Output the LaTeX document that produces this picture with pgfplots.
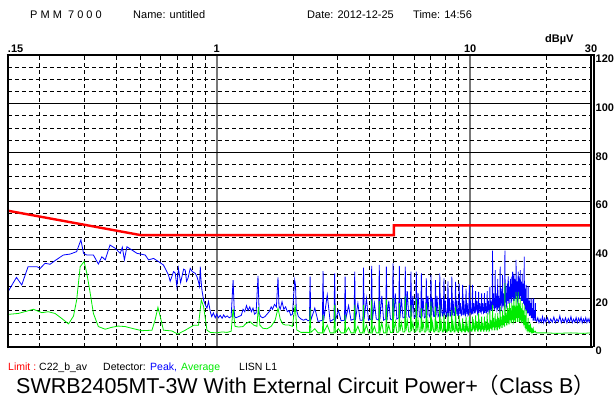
\documentclass[border=0pt]{standalone}
\usepackage{pgfplots}
\pgfplotsset{compat=1.18}
\usepackage{fontspec}
\setmainfont{Liberation Sans}
\newfontfamily\cjk{Noto Sans CJK SC}
\definecolor{pkblue}{RGB}{0,0,255}
\definecolor{avgreen}{RGB}{0,235,0}
\definecolor{limred}{RGB}{255,0,0}
\begin{document}
\begin{tikzpicture}
\useasboundingbox (0pt,0pt) rectangle (615pt,401pt);
\begin{axis}[
  at={(8pt,54pt)}, anchor=south west,
  width=583pt, height=292pt, scale only axis,
  xmode=log, xmin=0.15, xmax=30, ymin=0, ymax=120,
  axis line style={draw=none},
  clip=false,
  xtick={1,10}, xticklabels={1,10},
  extra x ticks={0.15,30}, extra x tick labels={\makebox[0pt][l]{.15},30},
  extra x tick style={grid=none},
  minor xtick={0.2,0.3,0.4,0.5,0.6,0.7,0.8,0.9,2,3,4,5,6,7,8,9,20},
  xticklabel pos=upper,
  ytick={0,20,40,60,80,100,120},
  yticklabels={0,20,40,60,80,100,120},
  minor ytick={5,10,15,25,30,35,45,50,55,65,70,75,85,90,95,105,110,115},
  yticklabel pos=right,
  major tick length=0pt, minor tick length=0pt,
  xmajorgrids, xminorgrids, ymajorgrids, yminorgrids,
  major x grid style={draw={rgb,255:red,120;green,120;blue,120}, line width=1.5pt},
  minor x grid style={black, line width=0.8pt, dash pattern=on 4pt off 3pt},
  major y grid style={black, line width=0.9pt},
  minor y grid style={black, line width=0.8pt, dash pattern=on 4pt off 3pt},
  /pgf/number format/assume math mode=true,
  tick label style={font=\bfseries\fontsize{11}{13}\selectfont},
  xticklabel style={anchor=south, inner sep=0pt, yshift=2.5pt},
  yticklabel style={anchor=north west, inner sep=0pt, xshift=4.5pt},
]
% Peak (blue)
\addplot[pkblue, line width=0.8pt] coordinates {
(0.150,22.7)(0.162,28.6)(0.170,25.5)(0.180,33.0)(0.195,33.0)(0.201,32.3)(0.210,34.4)(0.220,34.0)(0.230,35.5)(0.248,37.8)(0.264,38.2)(0.280,39.2)(0.286,41.9)(0.291,44.0)(0.298,38.5)(0.307,37.8)(0.326,37.8)(0.341,34.1)(0.352,37.1)(0.363,35.8)(0.379,41.9)(0.397,40.6)(0.416,38.5)(0.424,41.0)(0.432,35.8)(0.442,41.2)(0.462,39.9)(0.484,38.5)(0.522,37.8)(0.538,35.8)(0.563,36.4)(0.589,35.1)(0.616,33.7)(0.645,29.6)(0.655,27.0)(0.665,28.9)(0.675,31.0)(0.686,30.3)(0.696,24.8)(0.706,32.3)(0.720,26.5)(0.729,28.9)(0.740,32.0)(0.751,31.6)(0.760,27.0)(0.770,28.2)(0.786,32.3)(0.800,31.0)(0.822,30.3)(0.835,29.0)(0.847,26.8)(0.855,25.0)(0.861,33.0)(0.866,28.0)(0.874,23.4)(0.887,19.3)(0.901,17.3)(0.915,16.0)(0.928,18.7)
(0.943,14.5)(0.955,12.5)(0.970,14.0)(0.986,12.0)(1.000,13.5)(1.015,12.0)(1.032,13.0)(1.050,11.8)(1.065,13.2)(1.080,12.2)(1.100,12.8)(1.120,12.0)(1.140,12.5)(1.160,27.5)(1.175,12.5)(1.190,12.0)(1.220,12.5)(1.250,13.0)(1.270,15.5)(1.290,14.5)(1.310,17.0)(1.330,15.0)(1.350,16.5)(1.370,14.5)(1.390,16.0)(1.410,13.5)(1.430,14.0)(1.455,29.2)(1.470,14.0)(1.490,12.5)(1.520,12.0)(1.550,12.5)(1.580,13.5)(1.610,14.5)(1.640,16.5)(1.660,15.5)(1.690,17.5)(1.720,16.5)(1.745,28.6)(1.760,17.0)(1.780,15.5)(1.810,18.6)(1.840,15.5)(1.870,16.5)(1.900,14.5)(1.930,15.0)(1.960,13.0)(1.990,13.5)(2.030,27.5)(2.045,25.5)(2.060,15.5)(2.100,12.5)(2.150,11.5)(2.200,11.0)(2.250,11.5)(2.290,10.8)
(2.322,11.0)(2.336,28.9)(2.350,11.0)(2.438,16.0)(2.511,10.5)
(2.612,11.0)(2.628,31.2)(2.644,11.0)(2.730,21.4)(2.803,10.5)
(2.902,11.5)(2.920,30.3)(2.938,11.0)(3.022,15.0)(3.095,10.8)
(3.193,11.0)(3.212,28.9)(3.231,11.5)(3.314,17.0)(3.387,11.0)
(3.483,11.5)(3.504,31.0)(3.525,11.0)(3.606,18.0)(3.679,11.0)
(3.773,11.0)(3.796,32.6)(3.819,11.5)(3.898,20.0)(3.971,11.0)
(4.063,11.5)(4.088,33.3)(4.113,11.0)(4.190,18.0)(4.263,11.5)
(4.354,11.0)(4.380,33.7)(4.406,11.5)(4.482,21.0)(4.555,11.0)
(4.644,11.5)(4.672,33.0)(4.700,11.0)(4.774,19.0)(4.847,11.5)
(4.934,11.0)(4.964,34.4)(4.994,12.0)(5.066,22.0)(5.139,11.5)
(5.225,12.0)(5.256,33.3)(5.287,12.0)(5.358,20.0)(5.431,12.0)
(5.515,12.0)(5.548,33.0)(5.581,12.0)(5.650,23.0)(5.723,12.5)
(5.805,12.0)(5.840,31.0)(5.875,12.5)(5.942,21.0)(6.015,12.0)
(6.095,12.5)(6.132,31.0)(6.169,12.0)(6.234,22.0)(6.307,12.5)
(6.385,12.0)(6.424,30.3)(6.463,12.5)(6.526,20.0)(6.599,12.0)
(6.676,12.5)(6.716,28.2)(6.756,12.0)(6.818,21.0)(6.891,13.0)
(6.966,12.0)(7.008,29.6)(7.050,13.0)(7.110,20.0)(7.183,12.5)
(7.256,12.5)(7.300,27.5)(7.344,13.0)(7.402,21.0)(7.475,12.5)
(7.546,13.0)(7.592,30.3)(7.638,12.5)(7.694,20.0)(7.767,13.0)
(7.837,12.5)(7.884,28.2)(7.931,13.0)(7.986,19.0)(8.059,12.5)
(8.127,13.0)(8.176,27.0)(8.225,12.5)(8.278,20.0)(8.351,13.0)
(8.417,12.5)(8.468,28.9)(8.519,13.0)(8.570,19.0)(8.643,13.0)
(8.707,13.0)(8.760,26.8)(8.813,13.5)(8.862,19.0)(8.935,13.0)
(8.998,13.0)(9.052,26.0)(9.106,13.5)(9.154,18.0)(9.227,13.0)
(9.288,13.5)(9.344,25.5)(9.400,13.0)(9.446,19.0)(9.519,13.5)
(9.578,13.0)(9.636,24.0)(9.694,13.5)(9.738,18.0)(9.811,13.0)
(9.868,13.5)(9.928,25.5)(9.988,14.0)(10.030,19.0)(10.103,13.5)
(10.18,14.0)(10.22,25.5)(10.26,13.5)(10.34,18.0)(10.42,14.0)
(10.47,14.0)(10.51,23.0)(10.55,14.5)(10.63,19.0)(10.71,13.5)
(10.76,14.0)(10.80,22.7)(10.84,14.0)(10.92,18.0)(11.00,14.5)
(11.06,14.0)(11.10,22.0)(11.14,14.5)(11.22,18.0)(11.30,14.0)
(11.35,14.5)(11.39,22.1)(11.43,14.0)(11.51,18.0)(11.59,14.0)
(11.64,14.0)(11.68,23.0)(11.72,14.5)(11.80,19.0)(11.88,14.0)
(11.93,14.5)(11.97,24.8)(12.01,15.0)(12.09,19.0)(12.17,15.0)
(12.22,15.0)(12.26,39.6)(12.30,16.0)(12.38,22.0)(12.46,15.5)
(12.52,16.0)(12.56,31.6)(12.60,16.0)(12.68,22.0)(12.76,15.0)
(12.81,15.5)(12.85,28.0)(12.89,16.0)(12.97,21.0)(13.05,15.0)
(13.10,16.0)(13.14,33.0)(13.18,17.0)(13.26,24.0)(13.34,16.0)
(13.39,17.0)(13.43,29.6)(13.47,17.0)(13.55,22.0)(13.63,16.0)
(13.68,17.0)(13.72,39.6)(13.76,18.0)(13.84,25.0)(13.92,17.0)
(13.98,18.0)(14.02,26.0)(14.06,19.0)(14.14,29.0)(14.22,18.0)
(14.27,18.0)(14.31,24.8)(14.35,20.0)(14.43,28.0)(14.51,18.0)
(14.56,19.0)(14.60,28.9)(14.64,20.0)(14.72,31.0)(14.80,19.0)
(14.85,20.0)(14.89,30.0)(14.93,19.0)(15.01,28.0)(15.09,20.0)
(15.14,20.0)(15.18,35.8)(15.22,21.0)(15.30,27.0)(15.38,19.0)
(15.44,20.0)(15.48,31.0)(15.52,21.0)(15.60,29.0)(15.68,20.0)
(15.73,20.0)(15.77,31.6)(15.81,21.0)(15.89,27.0)(15.97,19.0)
(16.02,20.0)(16.06,30.0)(16.10,19.0)(16.18,26.0)(16.26,18.0)
(16.31,18.0)(16.35,37.1)(16.39,17.0)(16.47,24.0)(16.55,16.0)
(16.60,15.0)(16.64,25.5)(16.68,15.0)(16.76,20.0)(16.84,14.0)
(16.90,14.0)(16.94,25.0)(16.98,14.0)(17.06,19.0)(17.14,13.0)
(17.19,13.0)(17.23,20.0)(17.27,13.0)(17.35,18.0)(17.43,12.0)
(17.48,12.0)(17.52,20.0)(17.56,12.0)(17.64,16.0)(17.72,11.0)
(17.77,11.0)(17.81,20.0)(17.85,12.0)(17.93,15.0)(18.01,11.0)
(18.06,11.0)(18.10,18.0)(18.14,11.0)
(18.3,10.5)(18.5,12.0)(18.7,10.0)(18.9,11.5)(19.1,10.2)(19.3,12.5)(19.5,10.0)(19.7,11.8)(19.9,10.3)(20.2,12.0)(20.5,9.8)(20.8,11.5)(21.1,10.2)(21.4,12.3)(21.7,10.0)(22.0,11.5)(22.3,10.4)(22.6,12.8)(22.9,10.0)(23.2,11.6)(23.5,10.2)(23.8,12.0)(24.1,9.9)(24.4,11.7)(24.7,10.3)(25.0,12.5)(25.3,10.0)(25.6,11.4)(25.9,10.2)(26.2,12.1)(26.5,10.0)(26.8,11.8)(27.1,10.3)(27.4,12.2)(27.7,9.9)(28.0,11.5)(28.3,10.2)(28.6,12.0)(28.9,10.0)(29.2,11.6)(29.5,10.3)(29.8,12.0)(30,14.5)
};
% Average (green)
\addplot[avgreen, line width=0.8pt] coordinates {
(0.150,13.4)(0.165,13.8)(0.189,15.5)(0.204,14.1)(0.216,14.5)(0.230,13.8)(0.244,11.8)(0.260,9.5)(0.272,12.7)(0.280,19.3)(0.289,33.0)(0.2995,35.1)(0.307,30.3)(0.316,22.7)(0.326,13.8)(0.341,8.4)(0.363,7.3)(0.385,8.1)(0.409,8.6)(0.435,8.4)(0.462,7.7)(0.506,6.7)(0.555,6.9)(0.571,11.1)(0.586,16.3)(0.598,12.7)(0.616,6.9)(0.665,6.6)(0.702,5.3)(0.751,6.9)(0.810,8.9)(0.847,8.9)(0.869,19.3)(0.887,16.7)(0.915,6.9)
(0.943,6.0)(1.000,5.8)(1.050,6.2)(1.100,6.0)(1.140,6.5)(1.160,15.8)(1.180,8.5)(1.220,8.2)(1.270,8.4)(1.300,9.5)(1.350,10.5)(1.400,9.0)(1.440,8.5)(1.460,16.4)(1.480,9.0)(1.520,7.7)(1.580,7.5)(1.640,8.5)(1.700,11.0)(1.745,15.9)(1.780,11.5)(1.820,9.5)(1.870,9.0)(1.930,9.0)(1.990,8.5)(2.040,17.3)(2.070,7.0)(2.150,6.0)(2.250,6.0)(2.300,6.0)
(2.322,5.8)(2.336,15.9)(2.350,6.0)(2.438,7.5)(2.511,5.8)
(2.612,5.8)(2.628,13.2)(2.644,6.0)(2.730,9.0)(2.803,5.8)
(2.902,5.8)(2.920,17.3)(2.938,6.0)(3.022,7.5)(3.095,5.8)
(3.193,5.8)(3.212,13.2)(3.231,6.0)(3.314,8.0)(3.387,5.8)
(3.483,5.8)(3.504,17.3)(3.525,6.0)(3.606,8.5)(3.679,5.8)
(3.773,5.8)(3.796,17.3)(3.819,6.0)(3.898,9.0)(3.971,5.8)
(4.063,5.8)(4.088,19.5)(4.113,6.0)(4.190,8.5)(4.263,5.8)
(4.354,5.8)(4.380,18.8)(4.406,6.0)(4.482,10.0)(4.555,5.8)
(4.644,5.8)(4.672,19.5)(4.700,6.0)(4.774,9.0)(4.847,6.0)
(4.934,6.0)(4.964,20.0)(4.994,6.2)(5.066,10.5)(5.139,6.0)
(5.225,6.2)(5.256,18.0)(5.287,6.5)(5.358,10.0)(5.431,6.2)
(5.515,6.2)(5.548,20.8)(5.581,6.5)(5.650,11.0)(5.723,6.2)
(5.805,6.2)(5.840,17.3)(5.875,6.5)(5.942,10.0)(6.015,6.2)
(6.095,6.2)(6.132,20.0)(6.169,6.5)(6.234,11.0)(6.307,6.2)
(6.385,6.2)(6.424,15.9)(6.463,6.5)(6.526,10.0)(6.599,6.2)
(6.676,6.2)(6.716,18.0)(6.756,6.5)(6.818,10.5)(6.891,6.2)
(6.966,6.2)(7.008,18.6)(7.050,6.5)(7.110,10.0)(7.183,6.2)
(7.256,6.2)(7.300,16.6)(7.344,6.5)(7.402,10.5)(7.475,6.2)
(7.546,6.2)(7.592,17.3)(7.638,6.5)(7.694,10.0)(7.767,6.2)
(7.837,6.2)(7.884,13.8)(7.931,6.5)(7.986,9.5)(8.059,6.2)
(8.127,6.2)(8.176,14.0)(8.225,6.5)(8.278,10.0)(8.351,6.2)
(8.417,6.2)(8.468,15.2)(8.519,6.5)(8.570,9.5)(8.643,6.2)
(8.707,6.2)(8.760,16.6)(8.813,6.5)(8.862,9.5)(8.935,6.2)
(8.998,6.2)(9.052,13.0)(9.106,6.5)(9.154,9.0)(9.227,6.2)
(9.288,6.2)(9.344,11.8)(9.400,6.5)(9.446,9.5)(9.519,6.2)
(9.578,6.2)(9.636,12.5)(9.694,6.5)(9.738,9.0)(9.811,6.2)
(9.868,6.2)(9.928,12.5)(9.988,6.5)(10.030,9.5)(10.103,6.5)
(10.18,6.5)(10.22,12.5)(10.26,7.0)(10.34,10.0)(10.42,6.5)
(10.47,6.5)(10.51,13.0)(10.55,7.0)(10.63,10.5)(10.71,6.5)
(10.76,6.5)(10.80,13.8)(10.84,7.0)(10.92,10.0)(11.00,6.5)
(11.06,6.5)(11.10,12.5)(11.14,7.0)(11.22,10.0)(11.30,6.5)
(11.35,6.5)(11.39,12.5)(11.43,7.0)(11.51,10.5)(11.59,6.5)
(11.64,6.5)(11.68,14.0)(11.72,7.0)(11.80,10.0)(11.88,6.5)
(11.93,6.8)(11.97,15.2)(12.01,7.5)(12.09,11.0)(12.17,7.0)
(12.22,7.0)(12.26,17.3)(12.30,8.0)(12.38,12.0)(12.46,7.0)
(12.52,7.0)(12.56,13.8)(12.60,8.0)(12.68,11.5)(12.76,7.0)
(12.81,7.0)(12.85,14.0)(12.89,8.0)(12.97,12.0)(13.05,7.5)
(13.10,7.5)(13.14,16.6)(13.18,8.5)(13.26,12.5)(13.34,8.0)
(13.39,8.0)(13.43,15.0)(13.47,9.0)(13.55,13.0)(13.63,8.5)
(13.68,8.5)(13.72,26.2)(13.76,10.0)(13.84,14.0)(13.92,9.0)
(13.98,9.0)(14.02,17.0)(14.06,10.0)(14.14,16.0)(14.22,9.5)
(14.27,9.5)(14.31,18.0)(14.35,11.0)(14.43,16.0)(14.51,10.0)
(14.56,10.0)(14.60,18.0)(14.64,11.0)(14.72,17.0)(14.80,10.0)
(14.85,10.5)(14.89,20.0)(14.93,11.0)(15.01,17.0)(15.09,10.5)
(15.14,10.5)(15.18,22.7)(15.22,12.0)(15.30,17.0)(15.38,10.5)
(15.44,10.5)(15.48,22.7)(15.52,12.0)(15.60,18.0)(15.68,10.5)
(15.73,10.5)(15.77,20.0)(15.81,11.0)(15.89,16.0)(15.97,10.0)
(16.02,10.0)(16.06,18.0)(16.10,10.5)(16.18,15.0)(16.26,9.5)
(16.31,9.0)(16.35,17.0)(16.39,9.0)(16.47,13.0)(16.55,8.0)
(16.60,7.5)(16.64,15.2)(16.68,7.5)(16.76,10.0)(16.84,7.0)
(16.90,6.5)(16.94,12.0)(16.98,6.5)(17.06,9.0)(17.14,6.5)
(17.19,6.2)(17.23,10.0)(17.27,6.2)(17.35,8.0)(17.43,6.0)
(17.48,6.0)(17.52,8.0)(17.56,6.0)(17.64,7.0)(17.72,6.0)
(17.77,6.0)(17.81,7.0)(17.85,6.0)
(18.10,6.5)(18.20,5.8)(18.5,5.8)(20,5.8)(22,5.6)(25,5.8)(28,5.6)(29.9,5.8)(30,9.0)
};
% Limit (red)
\addplot[limred, line width=2.4pt] coordinates {
(0.15,56)(0.5,46)(5,46)(5,50)(30,50)
};
% frame
\draw[black, line width=2.6pt] (rel axis cs:0,0) -- (rel axis cs:0,1);
\draw[black, line width=2.2pt] ([xshift=-1.3pt]rel axis cs:0,0) -- ([xshift=1.5pt]rel axis cs:1,0);
\draw[black, line width=1.7pt] ([xshift=-1.3pt]rel axis cs:0,1) -- ([xshift=3.5pt]rel axis cs:1,1);
\draw[black, line width=1.3pt] (rel axis cs:1,0) -- (rel axis cs:1,1);
\draw[black, line width=1.1pt] ([xshift=3pt]rel axis cs:1,0) -- ([xshift=3pt]rel axis cs:1,1);
\end{axis}
% header
\node[anchor=base west, inner sep=0pt, font=\fontsize{11}{13}\selectfont] at (30pt,382pt) {P M M \ 7 0 0 0};
\node[anchor=base west, inner sep=0pt, font=\fontsize{11}{13}\selectfont] at (133pt,382pt) {Name: untitled};
\node[anchor=base west, inner sep=0pt, font=\fontsize{11}{13}\selectfont] at (307pt,382pt) {Date: 2012-12-25};
\node[anchor=base west, inner sep=0pt, font=\fontsize{11}{13}\selectfont] at (413pt,382pt) {Time: 14:56};
\node[anchor=base west, inner sep=0pt, font=\bfseries\fontsize{11}{13}\selectfont] at (545pt,358pt) {dBµV};
% bottom legend
\node[anchor=base west, inner sep=0pt, font=\fontsize{10.5}{12}\selectfont, text=limred] at (8pt,30pt) {Limit :};
\node[anchor=base west, inner sep=0pt, font=\fontsize{10.5}{12}\selectfont] at (39pt,30pt) {C22\_b\_av};
\node[anchor=base west, inner sep=0pt, font=\fontsize{10.5}{12}\selectfont] at (103pt,30pt) {Detector:};
\node[anchor=base west, inner sep=0pt, font=\fontsize{10.5}{12}\selectfont, text=pkblue] at (150pt,30pt) {Peak,};
\node[anchor=base west, inner sep=0pt, font=\fontsize{10.5}{12}\selectfont, text=avgreen] at (181pt,30pt) {Average};
\node[anchor=base west, inner sep=0pt, font=\fontsize{10.5}{12}\selectfont] at (239pt,30pt) {LISN L1};
% title
\node[anchor=base west, inner sep=0pt, font=\fontsize{21.5}{25}\selectfont] at (16pt,7pt) {SWRB2405MT-3W With External Circuit Power+{\cjk （}Class B{\cjk ）}};
\end{tikzpicture}
\end{document}
